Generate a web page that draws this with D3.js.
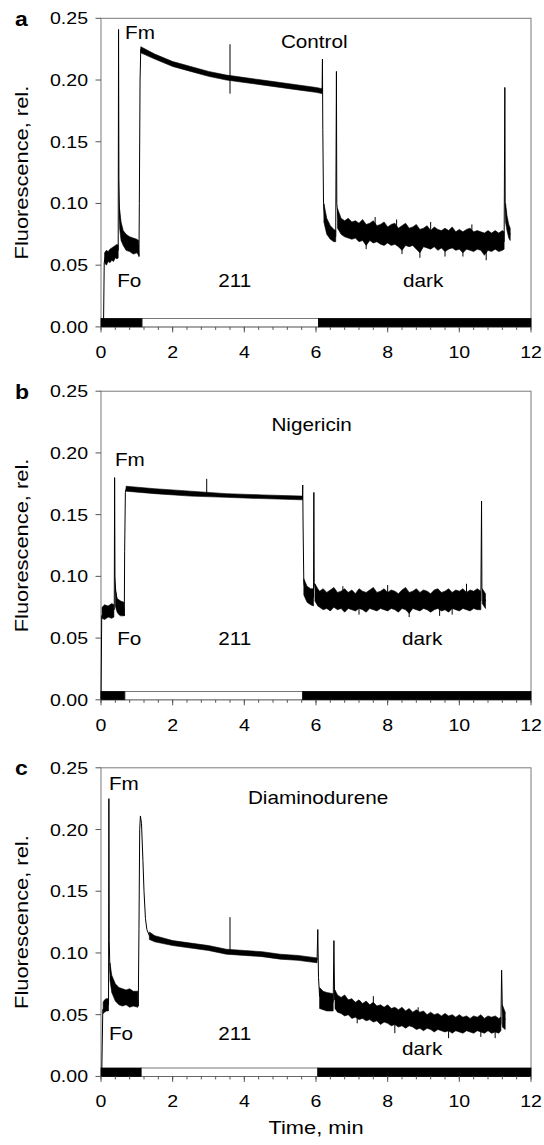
<!DOCTYPE html>
<html>
<head>
<meta charset="utf-8">
<script src="https://cdn.jsdelivr.net/npm/d3@7"></script>
<style>
  body { margin: 0; background: #fff; }
  text { font-family: "Liberation Sans", Arial, sans-serif; fill: #000; }
</style>
</head>
<body>
<div id="chart"></div>
<script>
// Chlorophyll fluorescence traces, three treatments (a, b, c)

// ---- data (time in min, fluorescence rel.) ----
const xTicks = [0, 2, 4, 6, 8, 10, 12];
const yTicks = [0, 0.05, 0.10, 0.15, 0.20, 0.25];
const panelLetters = ["a", "b", "c"];

// mean trace, including the saturating flashes
const traceA = [
  [0.07, 0], [0.09, 0.052], [0.12, 0.057], [0.2, 0.058], [0.3, 0.059], [0.4, 0.061], [0.48, 0.062],
  [0.49, 0.241], [0.5, 0.12], [0.52, 0.088], [0.56, 0.078], [0.62, 0.072], [0.7, 0.069], [0.8, 0.067],
  [0.9, 0.066], [1.04, 0.066], [1.06, 0.057], [1.07, 0.1], [1.09, 0.2], [1.11, 0.225],
  [1.2, 0.223], [1.4, 0.220], [1.7, 0.216], [2, 0.213], [2.5, 0.209], [3, 0.205], [3.5, 0.202],
  [4, 0.200], [4.5, 0.198], [5, 0.196], [5.5, 0.194], [6, 0.192], [6.17, 0.191],
  [6.18, 0.217], [6.19, 0.16], [6.21, 0.1], [6.25, 0.085], [6.35, 0.077], [6.5, 0.074], [6.55, 0.073],
  [6.57, 0.207], [6.58, 0.1], [6.62, 0.088], [6.7, 0.082], [7, 0.077], [7.5, 0.076], [8, 0.074],
  [9, 0.072], [10, 0.070], [11, 0.069], [11.25, 0.069],
  [11.27, 0.194], [11.28, 0.1], [11.32, 0.085], [11.38, 0.078], [11.42, 0.075]
];
const traceB = [
  [0.0, 0], [0.02, 0.068], [0.1, 0.071], [0.2, 0.072], [0.3, 0.073], [0.37, 0.073],
  [0.38, 0.180], [0.39, 0.1], [0.41, 0.088], [0.45, 0.080], [0.5, 0.077], [0.6, 0.076], [0.64, 0.075],
  [0.65, 0.068], [0.66, 0.12], [0.68, 0.168], [0.7, 0.171],
  [1, 0.170], [1.5, 0.169], [2, 0.168], [2.5, 0.167], [3, 0.166], [3.5, 0.165], [4, 0.165],
  [4.5, 0.164], [5, 0.164], [5.5, 0.163], [5.62, 0.163],
  [5.63, 0.174], [5.64, 0.14], [5.66, 0.095], [5.7, 0.088], [5.8, 0.084], [5.93, 0.083],
  [5.94, 0.168], [5.95, 0.095], [6.0, 0.087], [6.1, 0.083], [6.5, 0.081], [7, 0.081], [8, 0.080],
  [9, 0.080], [10, 0.080], [10.6, 0.080],
  [10.62, 0.161], [10.63, 0.09], [10.7, 0.082], [10.73, 0.080]
];
const traceC = [
  [0.02, 0], [0.05, 0.054], [0.1, 0.056], [0.15, 0.058], [0.21, 0.058],
  [0.22, 0.225], [0.23, 0.11], [0.25, 0.085], [0.3, 0.075], [0.4, 0.068], [0.5, 0.065], [0.7, 0.064],
  [0.9, 0.063], [1.03, 0.062], [1.04, 0.057], [1.06, 0.12], [1.08, 0.200], [1.1, 0.211], [1.13, 0.205],
  [1.17, 0.175], [1.2, 0.150], [1.24, 0.128], [1.28, 0.119], [1.35, 0.114], [1.5, 0.111], [2, 0.108],
  [2.5, 0.106], [3, 0.104], [3.5, 0.101], [4, 0.100], [4.5, 0.099], [5, 0.097], [5.5, 0.096], [6.03, 0.094],
  [6.05, 0.119], [6.07, 0.08], [6.1, 0.065], [6.2, 0.062], [6.4, 0.060], [6.48, 0.060],
  [6.5, 0.110], [6.52, 0.062], [6.7, 0.058], [7, 0.055], [7.5, 0.052], [8, 0.049], [8.5, 0.046],
  [9, 0.044], [9.5, 0.043], [10, 0.042], [10.5, 0.042], [11, 0.042], [11.16, 0.042],
  [11.18, 0.086], [11.2, 0.055], [11.25, 0.048], [11.28, 0.046]
];

// noise envelope of the signal: [time, low, high], one list per stretch
const noiseA = [
  [[0.1, 0.052, 0.060], [0.15, 0.050, 0.062], [0.2, 0.053, 0.061], [0.25, 0.052, 0.063], [0.3, 0.054, 0.064],
   [0.35, 0.053, 0.065], [0.4, 0.056, 0.066], [0.45, 0.055, 0.067], [0.48, 0.056, 0.066]],
  [[0.52, 0.080, 0.095], [0.56, 0.070, 0.085], [0.62, 0.066, 0.078], [0.7, 0.062, 0.075], [0.8, 0.061, 0.073],
   [0.9, 0.059, 0.072], [1.0, 0.060, 0.071], [1.05, 0.058, 0.070]],
  [[1.11, 0.222, 0.227], [1.5, 0.217, 0.221], [2, 0.211, 0.215], [2.5, 0.207, 0.211], [3, 0.203, 0.207],
   [3.5, 0.200, 0.204], [4, 0.198, 0.202], [4.5, 0.196, 0.200], [5, 0.194, 0.198], [5.5, 0.192, 0.196],
   [6, 0.190, 0.194], [6.17, 0.189, 0.193]],
  [[6.22, 0.085, 0.100], [6.3, 0.075, 0.088], [6.4, 0.071, 0.082], [6.5, 0.069, 0.079], [6.55, 0.069, 0.078]],
  [[6.6, 0.080, 0.096], [6.7, 0.075, 0.088], [6.8, 0.073, 0.086], [6.9, 0.072, 0.088], [7.0, 0.071, 0.085],
   [7.1, 0.072, 0.086], [7.2, 0.069, 0.084], [7.3, 0.070, 0.087], [7.4, 0.066, 0.083], [7.5, 0.070, 0.084],
   [7.6, 0.068, 0.086], [7.7, 0.069, 0.082], [7.8, 0.067, 0.083], [7.9, 0.066, 0.085], [8.0, 0.068, 0.081],
   [8.1, 0.066, 0.083], [8.2, 0.067, 0.084], [8.3, 0.065, 0.080], [8.4, 0.062, 0.082], [8.5, 0.066, 0.084],
   [8.6, 0.065, 0.080], [8.7, 0.066, 0.081], [8.8, 0.063, 0.083], [8.9, 0.060, 0.079], [9.0, 0.065, 0.080],
   [9.1, 0.064, 0.082], [9.2, 0.063, 0.078], [9.3, 0.065, 0.081], [9.4, 0.062, 0.079], [9.5, 0.064, 0.078],
   [9.6, 0.061, 0.080], [9.7, 0.063, 0.078], [9.8, 0.064, 0.081], [9.9, 0.062, 0.077], [10.0, 0.063, 0.079],
   [10.1, 0.060, 0.077], [10.2, 0.063, 0.079], [10.3, 0.062, 0.080], [10.4, 0.061, 0.077], [10.5, 0.063, 0.078],
   [10.6, 0.062, 0.077], [10.7, 0.058, 0.076], [10.8, 0.062, 0.078], [10.9, 0.061, 0.076], [11.0, 0.063, 0.078],
   [11.1, 0.061, 0.076], [11.2, 0.062, 0.078], [11.25, 0.063, 0.077]],
  [[11.29, 0.085, 0.100], [11.33, 0.078, 0.090], [11.38, 0.072, 0.083], [11.42, 0.070, 0.080]]
];
const noiseB = [
  [[0.03, 0.066, 0.075], [0.1, 0.065, 0.077], [0.2, 0.067, 0.076], [0.3, 0.066, 0.078], [0.36, 0.067, 0.077]],
  [[0.4, 0.076, 0.090], [0.45, 0.071, 0.082], [0.5, 0.069, 0.081], [0.55, 0.068, 0.080], [0.64, 0.068, 0.079]],
  [[0.7, 0.169, 0.173], [1.5, 0.167, 0.171], [2.5, 0.165, 0.169], [3.5, 0.164, 0.167], [4.5, 0.163, 0.166],
   [5.62, 0.162, 0.165]],
  [[5.66, 0.085, 0.098], [5.75, 0.079, 0.092], [5.85, 0.077, 0.090], [5.93, 0.076, 0.090]],
  [[5.97, 0.080, 0.094], [6.05, 0.076, 0.090], [6.1, 0.075, 0.088], [6.2, 0.073, 0.090], [6.3, 0.074, 0.087],
   [6.4, 0.072, 0.089], [6.5, 0.075, 0.091], [6.6, 0.073, 0.087], [6.7, 0.074, 0.088], [6.8, 0.071, 0.090],
   [6.9, 0.074, 0.087], [7.0, 0.073, 0.089], [7.1, 0.072, 0.086], [7.2, 0.074, 0.090], [7.3, 0.073, 0.088],
   [7.4, 0.071, 0.087], [7.5, 0.074, 0.089], [7.6, 0.073, 0.091], [7.7, 0.072, 0.087], [7.8, 0.074, 0.088],
   [7.9, 0.073, 0.090], [8.0, 0.072, 0.087], [8.1, 0.074, 0.089], [8.2, 0.073, 0.088], [8.3, 0.071, 0.086],
   [8.4, 0.074, 0.089], [8.5, 0.073, 0.091], [8.6, 0.070, 0.087], [8.7, 0.074, 0.088], [8.8, 0.073, 0.090],
   [8.9, 0.072, 0.087], [9.0, 0.074, 0.089], [9.1, 0.073, 0.088], [9.2, 0.071, 0.086], [9.3, 0.073, 0.089],
   [9.4, 0.074, 0.090], [9.5, 0.072, 0.087], [9.6, 0.073, 0.088], [9.7, 0.071, 0.090], [9.8, 0.074, 0.087],
   [9.9, 0.073, 0.089], [10.0, 0.072, 0.088], [10.1, 0.074, 0.090], [10.2, 0.073, 0.087], [10.3, 0.072, 0.089],
   [10.4, 0.074, 0.088], [10.5, 0.073, 0.090], [10.6, 0.073, 0.088]],
  [[10.64, 0.078, 0.090], [10.73, 0.074, 0.086]]
];
const noiseC = [
  [[0.06, 0.051, 0.060], [0.1, 0.052, 0.062], [0.15, 0.053, 0.063], [0.21, 0.053, 0.063]],
  [[0.25, 0.078, 0.092], [0.3, 0.068, 0.082], [0.4, 0.061, 0.075], [0.5, 0.058, 0.072], [0.6, 0.057, 0.071],
   [0.7, 0.058, 0.070], [0.8, 0.056, 0.071], [0.9, 0.057, 0.069], [1.03, 0.056, 0.069]],
  [[1.35, 0.111, 0.117], [1.5, 0.109, 0.114], [2, 0.106, 0.110], [2.5, 0.104, 0.108], [3, 0.102, 0.106],
   [3.5, 0.099, 0.103], [4, 0.098, 0.102], [4.5, 0.097, 0.101], [5, 0.095, 0.099], [5.5, 0.094, 0.098],
   [6.03, 0.092, 0.096]],
  [[6.1, 0.055, 0.072], [6.2, 0.054, 0.069], [6.3, 0.053, 0.068], [6.48, 0.053, 0.067]],
  [[6.53, 0.055, 0.070], [6.6, 0.052, 0.066], [6.7, 0.051, 0.064], [6.8, 0.049, 0.066], [6.9, 0.050, 0.062],
   [7.0, 0.047, 0.063], [7.1, 0.048, 0.060], [7.2, 0.046, 0.062], [7.3, 0.047, 0.059], [7.4, 0.045, 0.061],
   [7.5, 0.046, 0.058], [7.6, 0.044, 0.060], [7.7, 0.045, 0.057], [7.8, 0.042, 0.058], [7.9, 0.044, 0.056],
   [8.0, 0.043, 0.058], [8.1, 0.041, 0.055], [8.2, 0.042, 0.056], [8.3, 0.040, 0.054], [8.4, 0.041, 0.056],
   [8.5, 0.039, 0.053], [8.6, 0.041, 0.055], [8.7, 0.040, 0.052], [8.8, 0.038, 0.054], [8.9, 0.039, 0.052],
   [9.0, 0.037, 0.053], [9.1, 0.039, 0.050], [9.2, 0.038, 0.052], [9.3, 0.036, 0.050], [9.4, 0.038, 0.051],
   [9.5, 0.037, 0.049], [9.6, 0.036, 0.051], [9.7, 0.037, 0.049], [9.8, 0.035, 0.050], [9.9, 0.037, 0.048],
   [10.0, 0.036, 0.050], [10.1, 0.035, 0.048], [10.2, 0.037, 0.049], [10.3, 0.036, 0.047], [10.4, 0.035, 0.049],
   [10.5, 0.037, 0.048], [10.6, 0.036, 0.050], [10.7, 0.035, 0.047], [10.8, 0.037, 0.049], [10.9, 0.035, 0.048],
   [11.0, 0.036, 0.049], [11.1, 0.035, 0.047], [11.16, 0.037, 0.048]],
  [[11.2, 0.040, 0.058], [11.28, 0.038, 0.052]]
];

// isolated vertical spikes: [time, low, high]
const spikesA = [[3.6, 0.189, 0.229], [8.9, 0.056, 0.066], [9.6, 0.057, 0.066], [10.75, 0.054, 0.064],
                 [7.4, 0.063, 0.072], [8.4, 0.059, 0.07], [10.1, 0.057, 0.064], [9.2, 0.076, 0.085],
                 [7.65, 0.083, 0.089], [8.25, 0.082, 0.087], [10.35, 0.078, 0.083]];
const spikesB = [[2.95, 0.165, 0.179], [7.2, 0.069, 0.076], [8.6, 0.067, 0.075], [9.8, 0.069, 0.075],
                 [8.0, 0.086, 0.093], [10.2, 0.087, 0.094], [6.75, 0.086, 0.092], [9.45, 0.068, 0.074]];
const spikesC = [[3.6, 0.1, 0.129], [8.2, 0.035, 0.045], [9.7, 0.031, 0.04], [10.6, 0.032, 0.04],
                 [11.0, 0.031, 0.038], [7.6, 0.057, 0.065], [8.85, 0.05, 0.056], [7.15, 0.043, 0.05]];

// light regime bar under each trace: [start, end, isLight]
const lightsA = [[0, 1.15, false], [1.15, 6.07, true], [6.07, 12, false]];
const lightsB = [[0, 0.67, false], [0.67, 5.63, true], [5.63, 12, false]];
const lightsC = [[0, 1.13, false], [1.13, 6.05, true], [6.05, 12, false]];

// annotations: [text, time, value, anchor]
const notesA = [["Fm", 0.67, 0.233, "start"], ["Control", 5.02, 0.226, "start"],
                ["Fo", 0.45, 0.032, "start"], ["211", 3.27, 0.032, "start"], ["dark", 8.43, 0.032, "start"]];
const notesB = [["Fm", 0.39, 0.189, "start"], ["Nigericin", 7.0, 0.218, "end"],
                ["Fo", 0.45, 0.044, "start"], ["211", 3.27, 0.044, "start"], ["dark", 8.4, 0.044, "start"]];
const notesC = [["Fm", 0.22, 0.232, "start"], ["Diaminodurene", 4.1, 0.2205, "start"],
                ["Fo", 0.22, 0.0295, "start"], ["211", 3.27, 0.0295, "start"], ["dark", 8.4, 0.0174, "start"]];

// ---- layout ----
const width = 544, height = 1145;
const plotLeft = 101, plotRight = 531, plotH = 308.6;
const panelTops = [18.3, 391.2, 767.8];
const textStretch = 1.15;

const svg = d3.select("#chart")
  .append("svg")
  .attr("width", width)
  .attr("height", height);

function stretchedText(g, x, y, str, size, anchor, weight) {
  return g.append("text")
    .attr("transform", `translate(${x},${y}) scale(${textStretch},1)`)
    .attr("text-anchor", anchor || "start")
    .style("font-size", size + "px")
    .style("font-weight", weight || "normal")
    .text(str);
}

const panels = [
  { trace: traceA, noise: noiseA, spikes: spikesA, lights: lightsA, notes: notesA },
  { trace: traceB, noise: noiseB, spikes: spikesB, lights: lightsB, notes: notesB },
  { trace: traceC, noise: noiseC, spikes: spikesC, lights: lightsC, notes: notesC }
];

panels.forEach((p, i) => {
  const top = panelTops[i], bottom = top + plotH;
  const x = d3.scaleLinear().domain([0, 12]).range([plotLeft, plotRight]);
  const y = d3.scaleLinear().domain([0, 0.25]).range([bottom, top]);
  const g = svg.append("g");

  // frame
  g.append("rect")
    .attr("x", plotLeft).attr("y", top)
    .attr("width", plotRight - plotLeft).attr("height", plotH)
    .attr("fill", "none").attr("stroke", "#7a7a7a").attr("stroke-width", 1);

  // light / dark bar
  const barTop = y(0.0068);
  g.selectAll("rect.light")
    .data(p.lights)
    .enter().append("rect")
    .attr("class", "light")
    .attr("x", d => x(d[0]))
    .attr("y", barTop)
    .attr("width", d => x(d[1]) - x(d[0]))
    .attr("height", bottom - barTop)
    .attr("fill", d => d[2] ? "#fff" : "#000")
    .attr("stroke", d => d[2] ? "#555" : "#000")
    .attr("stroke-width", 0.8);

  // noise bands
  const area = d3.area()
    .x(d => x(d[0]))
    .y0(d => y(d[1]))
    .y1(d => y(d[2]));
  g.selectAll("path.noise")
    .data(p.noise)
    .enter().append("path")
    .attr("class", "noise")
    .attr("d", area)
    .attr("fill", "#000")
    .attr("stroke", "#000")
    .attr("stroke-width", 0.6);

  // mean trace
  const line = d3.line()
    .x(d => x(d[0]))
    .y(d => y(d[1]));
  g.append("path")
    .datum(p.trace)
    .attr("d", line)
    .attr("fill", "none")
    .attr("stroke", "#000")
    .attr("stroke-width", 1);

  // spikes
  g.selectAll("line.spike")
    .data(p.spikes)
    .enter().append("line")
    .attr("class", "spike")
    .attr("x1", d => x(d[0])).attr("x2", d => x(d[0]))
    .attr("y1", d => y(d[1])).attr("y2", d => y(d[2]))
    .attr("stroke", "#000")
    .attr("stroke-width", 1);

  // x axis: major ticks every 2, minor every 0.4
  const minor = d3.range(0, 12.001, 0.4);
  g.selectAll("line.minor")
    .data(minor)
    .enter().append("line")
    .attr("class", "minor")
    .attr("x1", d => x(d)).attr("x2", d => x(d))
    .attr("y1", bottom).attr("y2", bottom + 3)
    .attr("stroke", "#555");
  g.selectAll("line.major")
    .data(xTicks)
    .enter().append("line")
    .attr("class", "major")
    .attr("x1", d => x(d)).attr("x2", d => x(d))
    .attr("y1", bottom).attr("y2", bottom + 5.5)
    .attr("stroke", "#555");
  xTicks.forEach(t => stretchedText(g, x(t), bottom + 31, t, 17, "middle"));

  // y axis
  g.selectAll("line.ytick")
    .data(yTicks)
    .enter().append("line")
    .attr("class", "ytick")
    .attr("x1", plotLeft - 5.5).attr("x2", plotLeft)
    .attr("y1", d => y(d)).attr("y2", d => y(d))
    .attr("stroke", "#555");
  yTicks.forEach(v => stretchedText(g, 88, y(v) + 6, v.toFixed(2), 17, "end"));

  g.append("text")
    .attr("transform", `translate(28,${(top + bottom) / 2}) rotate(-90) scale(${textStretch},1)`)
    .attr("text-anchor", "middle")
    .style("font-size", "19px")
    .text("Fluorescence, rel.");

  // panel letter
  stretchedText(g, 15, top + 7.5, panelLetters[i], 20, "start", "bold");

  // annotations
  p.notes.forEach(n => stretchedText(g, x(n[1]), y(n[2]), n[0], 18, n[3]));
});

// x axis title (bottom panel only)
stretchedText(svg, (plotLeft + plotRight) / 2, 1134, "Time, min", 19, "middle");
</script>
</body>
</html>
